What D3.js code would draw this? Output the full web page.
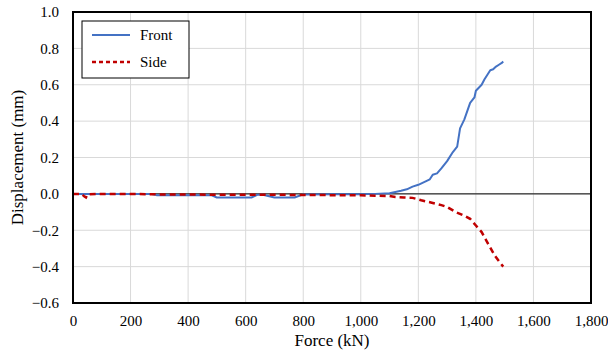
<!DOCTYPE html>
<html>
<head>
<meta charset="utf-8">
<script src="https://cdn.jsdelivr.net/npm/d3@7"></script>
<style>
  body { margin: 0; background: #fff; }
  svg, svg text { font-family: "Liberation Serif", "Times New Roman", Tinos, "DejaVu Serif", serif; }
</style>
</head>
<body>
<svg id="chart" width="608" height="352"></svg>
<script>
// data
var frontForce = [0, 50, 100, 200, 270, 290, 400, 480, 500, 600, 620, 640, 660, 700, 750, 770, 800, 900, 1000, 1050, 1100, 1120, 1140, 1160, 1180, 1200, 1220, 1240, 1250, 1265, 1280, 1300, 1320, 1335, 1345, 1360, 1380, 1395, 1400, 1420, 1430, 1440, 1450, 1460, 1470, 1480, 1490, 1495];
var frontDisp = [0, 0, 0, 0, 0, -0.007, -0.007, -0.007, -0.02, -0.02, -0.02, -0.005, -0.005, -0.02, -0.02, -0.02, -0.003, -0.002, -0.002, 0, 0.003, 0.01, 0.017, 0.025, 0.04, 0.05, 0.065, 0.08, 0.105, 0.113, 0.14, 0.18, 0.23, 0.26, 0.36, 0.41, 0.5, 0.53, 0.567, 0.6, 0.63, 0.655, 0.68, 0.685, 0.7, 0.71, 0.72, 0.728];

var sideForce = [0, 30, 40, 45, 50, 100, 200, 300, 400, 500, 600, 700, 800, 900, 1000, 1050, 1100, 1120, 1150, 1180, 1210, 1250, 1280, 1300, 1330, 1360, 1380, 1400, 1420, 1443, 1466, 1480, 1495];
var sideDisp = [0, 0, -0.015, -0.02, -0.003, 0, 0, -0.003, -0.003, -0.005, -0.005, -0.005, -0.006, -0.007, -0.008, -0.01, -0.012, -0.017, -0.02, -0.022, -0.035, -0.05, -0.062, -0.072, -0.1, -0.12, -0.137, -0.174, -0.21, -0.276, -0.34, -0.37, -0.4];

var xTicks = [0, 200, 400, 600, 800, 1000, 1200, 1400, 1600, 1800];
var yTicks = [-0.6, -0.4, -0.2, 0, 0.2, 0.4, 0.6, 0.8, 1.0];

var seriesNames = ['Front', 'Side'];

var serif = '"Liberation Serif", "Times New Roman", Tinos, "DejaVu Serif", serif';

var margin = {top: 12, right: 17, bottom: 49, left: 73};
var width = 608 - margin.left - margin.right;
var height = 352 - margin.top - margin.bottom;

var svg = d3.select('#chart');
var g = svg.append('g').attr('transform', 'translate(' + margin.left + ',' + margin.top + ')');

var x = d3.scaleLinear().domain([0, 1800]).range([0, width]);
var y = d3.scaleLinear().domain([-0.6, 1.0]).range([height, 0]);

// gridlines
g.append('g').selectAll('line').data(xTicks).join('line')
  .attr('x1', d => x(d)).attr('x2', d => x(d))
  .attr('y1', 0).attr('y2', height)
  .attr('stroke', '#d9d9d9').attr('stroke-width', 1);
g.append('g').selectAll('line').data(yTicks).join('line')
  .attr('x1', 0).attr('x2', width)
  .attr('y1', d => y(d)).attr('y2', d => y(d))
  .attr('stroke', '#d9d9d9').attr('stroke-width', 1);

// zero line
g.append('line')
  .attr('x1', 0).attr('x2', width)
  .attr('y1', y(0)).attr('y2', y(0))
  .attr('stroke', '#000').attr('stroke-width', 1);

// axes (labels only)
var xAxis = g.append('g').attr('transform', 'translate(0,' + height + ')')
  .call(d3.axisBottom(x).tickValues(xTicks).tickFormat(d3.format(',')).tickSize(0).tickPadding(12));
var yAxis = g.append('g')
  .call(d3.axisLeft(y).tickValues(yTicks).tickFormat(d3.format('.1f')).tickSize(0).tickPadding(14));
[xAxis, yAxis].forEach(function(a) {
  a.attr('font-family', serif).attr('font-size', 15);
  a.select('.domain').remove();
  a.selectAll('text').attr('fill', '#000');
});

// lines
var line = d3.line()
  .x(d => x(d[0]))
  .y(d => y(d[1]));

var frontData = frontForce.map((f, i) => [f, frontDisp[i]]);
var sideData = sideForce.map((f, i) => [f, sideDisp[i]]);

g.append('path').datum(frontData)
  .attr('fill', 'none').attr('stroke', '#4472c4').attr('stroke-width', 2)
  .attr('stroke-linejoin', 'round')
  .attr('d', line);
g.append('path').datum(sideData)
  .attr('fill', 'none').attr('stroke', '#c00000').attr('stroke-width', 2.5)
  .attr('stroke-dasharray', '6,4')
  .attr('d', line);

// plot border
g.append('rect')
  .attr('x', 0).attr('y', 0).attr('width', width).attr('height', height)
  .attr('fill', 'none').attr('stroke', '#000').attr('stroke-width', 2);

// legend
var legend = g.append('g').attr('transform', 'translate(9,9)');
legend.append('rect')
  .attr('width', 107).attr('height', 57)
  .attr('fill', '#fff').attr('stroke', '#000').attr('stroke-width', 1);
var legendStyles = [
  {color: '#4472c4', dash: null, w: 2},
  {color: '#c00000', dash: '4,3', w: 2.5}
];
seriesNames.forEach(function(name, i) {
  var ly = 14 + i * 27;
  legend.append('line')
    .attr('x1', 10).attr('x2', 48).attr('y1', ly).attr('y2', ly)
    .attr('stroke', legendStyles[i].color).attr('stroke-width', legendStyles[i].w)
    .attr('stroke-dasharray', legendStyles[i].dash);
  legend.append('text')
    .attr('x', 58).attr('y', ly).attr('dy', '0.35em')
    .attr('font-family', serif).attr('font-size', 15).text(name);
});

// axis titles
svg.append('text')
  .attr('x', margin.left + width / 2).attr('y', 346)
  .attr('text-anchor', 'middle').attr('font-family', serif).attr('font-size', 17)
  .text('Force (kN)');
svg.append('text')
  .attr('transform', 'translate(23,' + (margin.top + height / 2) + ') rotate(-90)')
  .attr('text-anchor', 'middle').attr('font-family', serif).attr('font-size', 17)
  .text('Displacement (mm)');
</script>
</body>
</html>
